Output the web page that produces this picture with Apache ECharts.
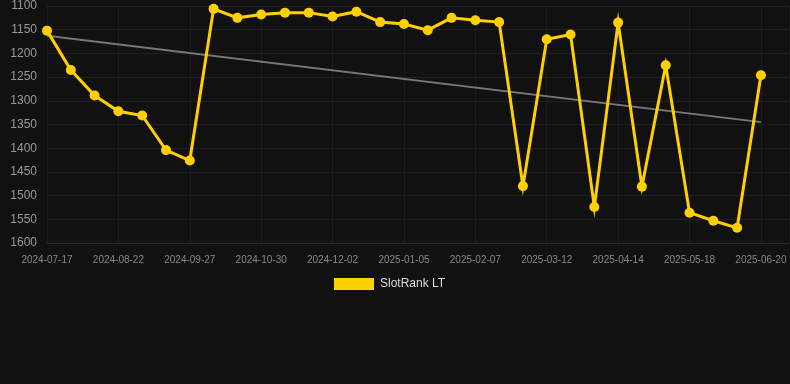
<!DOCTYPE html>
<html>
<head>
<meta charset="utf-8">
<script src="https://cdn.jsdelivr.net/npm/echarts@6/dist/echarts.min.js"></script>
<style>
  html, body { margin: 0; padding: 0; background: #111111; }
  #chart { width: 790px; height: 384px; }
</style>
</head>
<body>
<div id="chart"></div>
<script>
// dates (every third one is labelled)
const dates = [
  '2024-07-17', '2024-07-29', '2024-08-10', '2024-08-22', '2024-09-03', '2024-09-15',
  '2024-09-27', '2024-10-08', '2024-10-19', '2024-10-30', '2024-11-10', '2024-11-21',
  '2024-12-02', '2024-12-13', '2024-12-24', '2025-01-05', '2025-01-16', '2025-01-27',
  '2025-02-07', '2025-02-18', '2025-03-01', '2025-03-12', '2025-03-23', '2025-04-03',
  '2025-04-14', '2025-04-25', '2025-05-07', '2025-05-18', '2025-05-29', '2025-06-09',
  '2025-06-20'
];

// rank values
const rankLT = [
  1152, 1235, 1289, 1322, 1331, 1404, 1426, 1106, 1125, 1118, 1114,
  1114, 1122, 1112, 1134, 1138, 1151, 1125, 1130, 1134, 1480, 1170,
  1160, 1524, 1135, 1481, 1225, 1536, 1553, 1568, 1246
];

// trend line endpoints (first and last date)
const trendStart = 1163;
const trendEnd = 1345;

const last = dates.length - 1;
const rankData = rankLT.map((v, i) => [i, v]);
const trendData = [[0, trendStart], [last, trendEnd]];

const chart = echarts.init(document.getElementById('chart'));

const option = {
  backgroundColor: '#111111',
  animation: false,
  grid: {
    left: 47,
    right: 1,
    top: 6,
    bottom: 141
  },
  legend: {
    top: 273,
    left: 329,
    icon: 'rect',
    itemWidth: 40,
    itemHeight: 12,
    itemGap: 10,
    data: ['SlotRank LT'],
    textStyle: { color: '#dddddd', fontSize: 12, padding: [0, 0, 0, 1], fontFamily: 'Liberation Sans, Arial, sans-serif' }
  },
  xAxis: {
    type: 'value',
    min: 0,
    max: 31.18,
    interval: 3,
    axisLine: { lineStyle: { color: '#2a2a2a' } },
    axisTick: { show: false },
    axisLabel: {
      color: '#888888',
      fontSize: 10,
      margin: 12,
      showMaxLabel: false,
      formatter: (v) => dates[v] || '',
      fontFamily: 'Liberation Sans, Arial, sans-serif'
    },
    splitLine: {
      show: true,
      lineStyle: { color: '#1c1c1c' }
    }
  },
  yAxis: {
    type: 'value',
    inverse: true,
    min: 1100,
    max: 1600,
    interval: 50,
    axisLine: { show: false },
    axisTick: { show: false },
    axisLabel: {
      color: '#999999',
      fontSize: 12,
      margin: 10,
      formatter: (v) => String(v),
      fontFamily: 'Liberation Sans, Arial, sans-serif'
    },
    splitLine: { lineStyle: { color: '#1f1f1f' } }
  },
  series: [
    {
      name: 'Trend',
      type: 'line',
      data: trendData,
      symbol: 'none',
      lineStyle: { color: '#777777', width: 2 },
      z: 1
    },
    {
      name: 'SlotRank LT',
      type: 'line',
      data: rankData,
      symbol: 'circle',
      symbolSize: 10,
      itemStyle: { color: '#FFD000' },
      lineStyle: { color: '#FFD000', width: 3, join: 'miter', miterLimit: 10 },
      z: 2
    }
  ]
};

chart.setOption(option);
</script>
</body>
</html>
